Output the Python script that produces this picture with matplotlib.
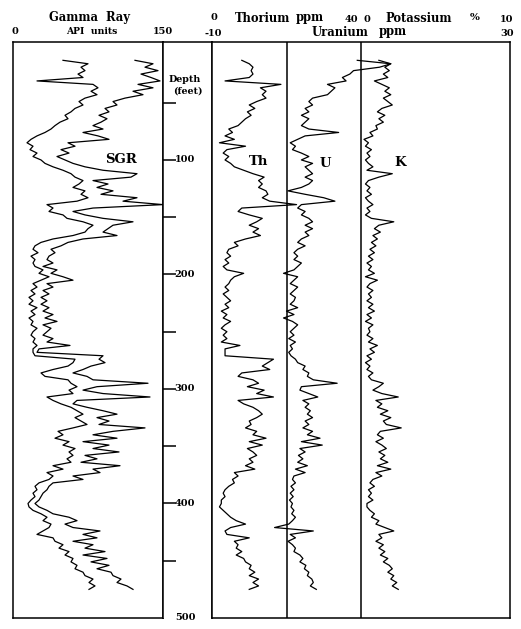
import numpy as np
import matplotlib
matplotlib.use("Agg")
from matplotlib import pyplot as plt
from matplotlib import transforms

# depth samples (feet), one reading every 3 ft
depth = np.arange(13, 476, 3)

# gamma ray, API units - right (SGR) and left curves
sgr = [122, 140, 132, 145, 128, 138, 147, 125, 140, 120,
       130, 112, 100, 104, 92, 96, 86, 94, 88, 80,
       90, 70, 85, 96, 55, 62, 48, 56, 44, 52,
       60, 72, 90, 124, 118, 80, 95, 84, 100, 88,
       124, 110, 150, 80, 60, 72, 90, 120, 100, 95,
       90, 104, 70, 55, 48, 38, 42, 36, 34, 40,
       30, 44, 38, 50, 60, 34, 40, 30, 36, 28,
       34, 28, 36, 30, 40, 32, 44, 30, 38, 34,
       30, 40, 34, 57, 26, 24, 90, 86, 92, 78,
       70, 60, 74, 80, 135, 84, 70, 90, 137, 64,
       60, 74, 90, 104, 84, 96, 86, 132, 100, 80,
       104, 70, 96, 80, 106, 72, 84, 68, 107, 80,
       87, 60, 70, 40, 36, 34, 30, 28, 26, 22,
       26, 34, 40, 56, 64, 52, 60, 87, 70, 84,
       60, 80, 72, 92, 70, 94, 78, 96, 84, 98,
       100, 108, 104, 114, 120]
cgr = [50, 75, 68, 72, 65, 70, 24, 80, 85, 78,
       84, 72, 66, 70, 62, 58, 52, 55, 47, 42,
       38, 32, 24, 18, 14, 20, 17, 24, 20, 28,
       32, 40, 50, 58, 62, 70, 66, 60, 72, 68,
       75, 64, 34, 40, 36, 50, 54, 70, 80, 75,
       72, 60, 40, 28, 22, 20, 25, 18, 22, 20,
       22, 30, 26, 36, 28, 20, 24, 18, 22, 16,
       20, 16, 24, 18, 22, 16, 20, 18, 24, 20,
       18, 22, 20, 24, 20, 20, 22, 62, 60, 55,
       40, 28, 32, 55, 58, 64, 56, 60, 34, 40,
       48, 58, 64, 70, 62, 68, 74, 60, 45, 50,
       42, 56, 50, 62, 56, 60, 54, 58, 40, 50,
       34, 40, 36, 26, 22, 24, 20, 22, 18, 15,
       16, 20, 28, 34, 30, 38, 36, 30, 24, 40,
       42, 50, 46, 56, 52, 60, 58, 64, 62, 70,
       72, 80, 76, 82, 76]

# thorium, ppm
thorium = [8, 10, 11, 10.5, 11, 10, 3.5, 18.5, 13, 14.5,
           13.5, 14.5, 12, 10, 11.5, 9.5, 10.5, 9, 8, 7,
           4.5, 5.5, 3.5, 6, 2, 9, 4, 3, 4.5, 3.5,
           5, 6, 8.5, 11, 14, 12.5, 13.5, 12.5, 14.5, 15,
           13.5, 15.5, 22.7, 8, 7, 10, 13.5, 12, 10, 12.5,
           11, 13, 9, 6, 7, 4.5, 4, 5, 3.5, 4.5,
           3, 4, 8.5, 6, 5, 4.5, 3.5, 4.5, 3, 4,
           5, 3.5, 4.5, 2.5, 4, 3, 5, 3.5, 2.5, 4,
           3, 4, 2.5, 7.5, 3.5, 3.5, 3.5, 16.5, 15, 13.5,
           15.5, 8, 7, 11, 12.5, 9.5, 14, 12, 16.5, 7,
           8.5, 11, 12.5, 13.5, 12, 10, 10.5, 9, 12, 11,
           14.5, 10, 13.5, 9.5, 11, 12, 10, 11, 9, 11.5,
           6, 7, 5.5, 6, 4.5, 3.5, 3, 3.5, 2.5, 2.5,
           2, 3, 4, 5, 6.5, 9, 5, 3.5, 4, 10,
           6, 7, 6.5, 8, 6.5, 8.5, 9, 10.5, 10, 11.5,
           10, 12.5, 11, 12.5, 10]

# uranium, ppm
uranium = [9.5, 14, 12.5, 9, 8.5, 7.5, 8, 5.5, 6.5, 6,
           5.5, 3.5, 3, 3.5, 2.5, 3, 2, 3, 2.5, 2,
           3, 7, 2.5, 1.5, 0.5, 1.2, 0.8, 2, 3, 2,
           3.5, 2.5, 3, 3.5, 2.5, 3.5, 3, 2, 0.2, 2.5,
           5, 6.5, 2, 1.5, 2.5, 2, 3, 3.5, 2.5, 3.5,
           2.5, 3, 2, 1.5, 2.5, 1.5, 1, 1.5, 1, 2,
           1.5, 1, -0.4, 1.5, 1, 0.5, 1.5, 1, 0.5, 1.2,
           1, 0.5, 1.5, 0, 1, -0.4, 0.8, 1.5, 1, 0.5,
           1, 0.3, 1.2, 0.5, 0.8, 0.3, 0.6, 1.2, 1.5, 2.5,
           2.2, 3, 2.8, 3.6, 6.8, 2, 1.8, 3, 4.2, 2.2,
           3, 2.5, 3.2, 2.8, 3.5, 2.5, 3, 2.2, 3.5, 2.8,
           4.5, 2, 4.8, 1.8, 2.5, 1.6, 2.2, 1.5, 2.8, 1.2,
           2.5, 1, 0.8, 1.2, 0.6, 1, 0.5, 0.9, 0.4, 0.8,
           0.6, 1, 0.7, 1.2, 0.8, 0.3, -1.6, 3.6, 0.5, 1.2,
           0.2, 0.8, 1.2, 1, 1.8, 2.2, 1.8, 2.6, 2.4, 3,
           2.8, 3.4, 3.6, 3.2, 4]

# potassium, %
potassium = [1.2, 2, 1.6, 1.9, 1.5, 1.8, 0.9, 1.4, 1.9, 1.6,
             2, 1.5, 1.8, 2.1, 1.4, 1.1, 1.6, 1.2, 1.5, 1,
             1.1, 0.6, 0.8, 0.2, 0.5, 0.3, 0.7, 0.4, 0.6, 0.3,
             0.5, 0.8, 0.4, 2.1, 1.2, 0.5, 0.3, 0.6, 0.4, 0.7,
             0.3, 0.5, 0.8, 0.4, 0.6, 0.3, 0.7, 2.2, 1.2, 0.9,
             1.3, 0.8, 1.1, 0.7, 1, 0.6, 0.9, 0.5, 0.8, 0.4,
             0.7, 0.5, 0.9, 0.3, 1.1, 0.6, 0.4, 0.8, 0.5, 0.7,
             0.4, 0.8, 0.5, 0.9, 0.4, 0.7, 0.3, 0.8, 0.5, 0.6,
             0.4, 0.8, 0.5, 1.1, 0.6, 0.9, 0.4, 0.7, 0.3, 0.6,
             0.4, 0.8, 0.5, 0.7, 1.5, 1.2, 0.8, 1.4, 2.5, 1,
             1.4, 1.1, 1.8, 1.3, 2, 1.5, 1.7, 2.7, 1.3, 1.1,
             1.5, 1, 1.4, 1.7, 1.2, 1.6, 1.3, 1.8, 1.1, 2,
             1, 1.4, 0.8, 0.6, 0.9, 0.5, 0.7, 0.5, 0.8, 0.4,
             0.4, 0.6, 0.9, 0.7, 1.2, 1, 1.6, 2.2, 1.2, 1.4,
             1, 1.5, 1.2, 1.6, 1.3, 1.8, 1.5, 1.9, 2.1, 1.8,
             2.2, 2, 2.4, 2.1, 2.5]

depth_ticks = [50, 100, 150, 200, 250, 300, 350, 400, 450]
depth_labels = [100, 200, 300, 400, 500]

plt.rcParams['font.family'] = 'DejaVu Serif'
plt.rcParams['font.weight'] = 'bold'

W, H = 521, 629
fig = plt.figure(figsize=(W / 100, H / 100), dpi=100)


def box(x0, x1, y0=42, y1=618):
    # pixel box -> figure fraction rectangle
    return [x0 / W, 1 - y1 / H, (x1 - x0) / W, (y1 - y0) / H]


ax_gr = fig.add_axes(box(13, 163))
ax_dep = fig.add_axes(box(163, 212))
ax_u = fig.add_axes(box(212, 510))
ax_th = fig.add_axes(box(212, 361))
ax_k = fig.add_axes(box(361, 510))

for ax in (ax_gr, ax_dep, ax_u, ax_th, ax_k):
    ax.set_ylim(500, -3)
    ax.set_xticks([])
    ax.set_yticks([])
    for s in ax.spines.values():
        s.set_linewidth(1.1)

for ax in (ax_th, ax_k):
    ax.set_frame_on(False)
    ax.patch.set_alpha(0)

ax_gr.set_xlim(0, 150)
ax_th.set_xlim(0, 40)
ax_u.set_xlim(-10, 30)
ax_k.set_xlim(0, 10)

lw = 0.9
ax_gr.plot(sgr, depth, color='black', lw=lw)
ax_gr.plot(cgr, depth, color='black', lw=lw)
ax_th.plot(thorium, depth, color='black', lw=lw)
ax_u.plot(uranium, depth, color='black', lw=lw)
ax_k.plot(potassium, depth, color='black', lw=lw)

# track dividers
ax_u.axvline(0, color='black', lw=1.1)
ax_u.axvline(10, color='black', lw=1.1)

# depth track
ax_dep.spines['bottom'].set_visible(False)
ax_dep.set_yticks(depth_ticks)
ax_dep.tick_params(axis='y', direction='in', length=9, width=1.1, labelleft=False)
tr = transforms.blended_transform_factory(ax_dep.transAxes, ax_dep.transData)
for d in depth_labels:
    ax_dep.text(0.24, d, str(d), transform=tr, ha='left', va='center', fontsize=7)
ax_dep.text(0.44, 30, "Depth", transform=tr, ha='center', va='center', fontsize=6.8)
ax_dep.text(0.50, 39.5, "(feet)", transform=tr, ha='center', va='center', fontsize=6.8)

# curve names
ax_gr.text(108, 100, "SGR", ha='center', va='center', fontsize=9.5)
ax_th.text(12.6, 101, "Th", ha='center', va='center', fontsize=9.5)
ax_u.text(5.2, 103.5, "U", ha='center', va='center', fontsize=9.5)
ax_k.text(2.6, 102.6, "K", ha='center', va='center', fontsize=9.5)

# header
def head(x, y, s, size=8.3):
    fig.text(x / W, 1 - y / H, s, ha='center', va='center', fontsize=size)

head(89, 18, "Gamma  Ray")
head(15, 32, "0", 7)
head(92, 32, "API  units", 6.7)
head(163, 32, "150", 7)
head(214, 18, "0", 7)
head(263, 18, "Thorium", 8.3)
head(310, 18, "ppm", 8.3)
head(351, 19, "40", 7)
head(367, 19, "0", 7)
head(419, 18, "Potassium", 8.3)
head(475, 18, "%", 7.5)
head(507, 20, "10", 7)
head(213, 33, "-10", 7)
head(340, 32, "Uranium", 8.3)
head(393, 32, "ppm", 8.3)
head(507, 33, "30", 7)

fig.savefig("out.png", dpi=100)
